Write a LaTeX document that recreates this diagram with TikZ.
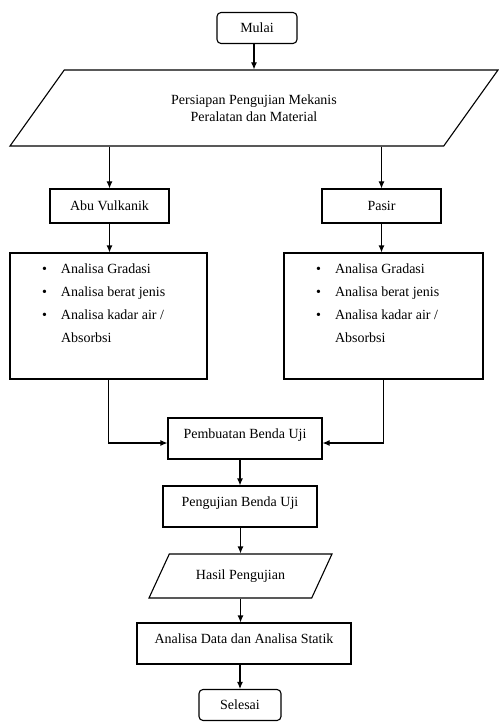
\documentclass[tikz,border=0pt]{standalone}
\usepackage{fontspec}
\setmainfont{Liberation Serif}
\usetikzlibrary{shapes.geometric,arrows.meta}

\newcommand\butir[1]{\hspace*{32pt}\makebox[19pt][l]{\textbullet}#1}

\begin{document}
\begin{tikzpicture}[x=1pt, y=-1pt, line width=1.1pt,
    every node/.style={font=\fontsize{14}{17}\selectfont},
    terminal/.style={rectangle, rounded corners=4pt, draw, minimum width=#1, minimum height=31pt},
    kotak/.style={rectangle, draw, minimum width=119pt, minimum height=34pt},
    proses/.style={rectangle, draw, minimum width=#1, inner ysep=6pt, text height=14pt, text depth=15pt},
    daftar/.style={rectangle, draw, inner sep=0pt},
    io/.style={trapezium, draw, trapezium stretches body, align=center},
    panah/.style={-{Latex[length=7pt,width=6pt]}}
    ]
    \useasboundingbox (0,0) rectangle (498,722);
    \node[terminal=80pt] (mulai) at (257,28) {Mulai};
    \node[io, trapezium left angle=31.7, trapezium right angle=148.3,
      minimum width=488pt, minimum height=76pt] (persiapan) at (254,108)
      {Persiapan Pengujian Mekanis\\Peralatan dan Material};
    \node[kotak] (abu) at (109.5,206) {Abu Vulkanik};
    \node[kotak] (pasir) at (381.5,206) {Pasir};
    \node[daftar] (lista) at (108.5,316) {\parbox[c][126pt][t]{197pt}{\fontsize{14}{23.3}\selectfont
        \rule{0pt}{20pt}\butir{Analisa Gradasi}\\
        \butir{Analisa berat jenis}\\
        \butir{Analisa kadar air /}\\
        \hspace*{51pt}Absorbsi}};
    \node[daftar] (listb) at (383.5,316) {\parbox[c][126pt][t]{199pt}{\fontsize{14}{23.3}\selectfont
        \rule{0pt}{20pt}\butir{Analisa Gradasi}\\
        \butir{Analisa berat jenis}\\
        \butir{Analisa kadar air /}\\
        \hspace*{51pt}Absorbsi}};
    \node[proses=154pt] (buat) at (245,438.5) {Pembuatan Benda Uji};
    \node[proses=154pt] (uji) at (240,506.5) {Pengujian Benda Uji};
    \node[io, trapezium left angle=43.7, trapezium right angle=136.3,
      minimum width=183pt, minimum height=44pt] (hasil) at (240.5,576) {Hasil Pengujian};
    \node[proses=214pt] (analisa) at (244,643.5) {Analisa Data dan Analisa Statik};
    \node[terminal=82pt] (selesai) at (240,705) {Selesai};

    \draw[panah] (mulai.south -| persiapan.north) -- (persiapan.north);
    \draw[panah] (abu.north |- persiapan.bottom left corner) -- (abu.north);
    \draw[panah] (pasir.north |- persiapan.bottom right corner) -- (pasir.north);
    \draw[panah] (abu.south) -- (abu.south |- lista.north);
    \draw[panah] (pasir.south) -- (pasir.south |- listb.north);
    \draw[panah] (lista.south) |- ([yshift=-4.5pt]buat.west);
    \draw[panah] (listb.south) |- ([yshift=-4.5pt]buat.east);
    \draw[panah] (uji.north |- buat.south) -- (uji.north);
    \draw[panah] (hasil.north |- uji.south) -- (hasil.north);
    \draw[panah] (hasil.south) -- (hasil.south |- analisa.north);
    \draw[panah] (selesai.north |- analisa.south) -- (selesai.north);
\end{tikzpicture}
\end{document}
